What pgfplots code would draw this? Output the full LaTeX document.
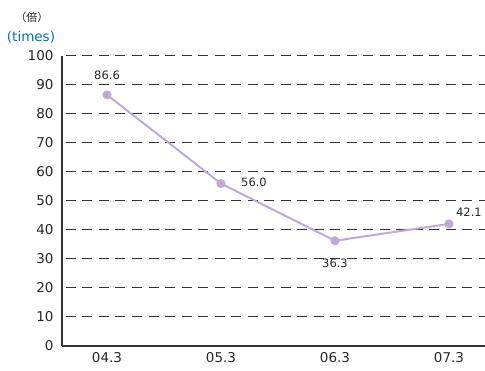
\documentclass[border=0pt]{standalone}
\usepackage{pgfplots}
\pgfplotsset{compat=1.18}
\usepackage{fontspec}
\setmainfont{DejaVu Sans}
\newfontfamily\cjk{Noto Sans CJK JP}
\definecolor{lineP}{RGB}{190,170,215}
\definecolor{titleblue}{RGB}{0,112,192}
\definecolor{axgray}{RGB}{50,50,50}
\begin{document}
\begin{tikzpicture}
\begin{axis}[
  scale only axis,
  width=423pt, height=290pt,
  xmin=-0.395, xmax=3.316,
  ymin=0, ymax=100,
  ytick={0,10,...,100},
  xtick={0,1,2,3},
  xticklabels={04.3,05.3,06.3,07.3},
  axis x line*=bottom, axis y line*=left,
  axis line style={axgray, line width=1.6pt, -},
  major tick length=0pt,
  ymajorgrids,
  grid style={black!80, line width=1pt, dash pattern=on 10pt off 6.5pt, dash phase=-4pt},
  tick label style={font=\fontsize{13.5}{15}\selectfont, text=black!85},
  yticklabel style={xshift=-5pt},
  xticklabel style={yshift=-3pt},
  /pgf/number format/assume math mode=true,
  clip=false,
]
\addplot[lineP, line width=2pt, mark=*, mark size=3.5pt, mark options={fill=lineP, draw=lineP}]
  table {
x y
0 86.6
1 56.0
2 36.3
3 42.1
};
\node[font=\fontsize{11.5}{13}\selectfont, text=black!85] at (axis cs:0,86.6) [yshift=20pt] {86.6};
\node[font=\fontsize{11.5}{13}\selectfont, text=black!85] at (axis cs:1,56.0) [xshift=33pt, yshift=1pt] {56.0};
\node[font=\fontsize{11.5}{13}\selectfont, text=black!85] at (axis cs:2,36.3) [yshift=-23pt] {36.3};
\node[font=\fontsize{11.5}{13}\selectfont, text=black!85] at (axis cs:3,42.1) [xshift=20pt, yshift=12pt] {42.1};
\coordinate (bl) at (rel axis cs:0,0);
\coordinate (tr) at (rel axis cs:1,1);
\end{axis}
\node[font=\cjk\fontsize{11}{13}\selectfont, text=black!85] at ([xshift=-30pt,yshift=39pt]tr -| bl) {（倍）};
\node[font=\fontsize{13.5}{15}\selectfont, text=titleblue] at ([xshift=-31pt,yshift=19pt]tr -| bl) {(times)};
\pgfresetboundingbox
\path ([xshift=-62pt,yshift=-25pt]bl) rectangle ([yshift=56pt]tr);
\end{tikzpicture}
\end{document}
